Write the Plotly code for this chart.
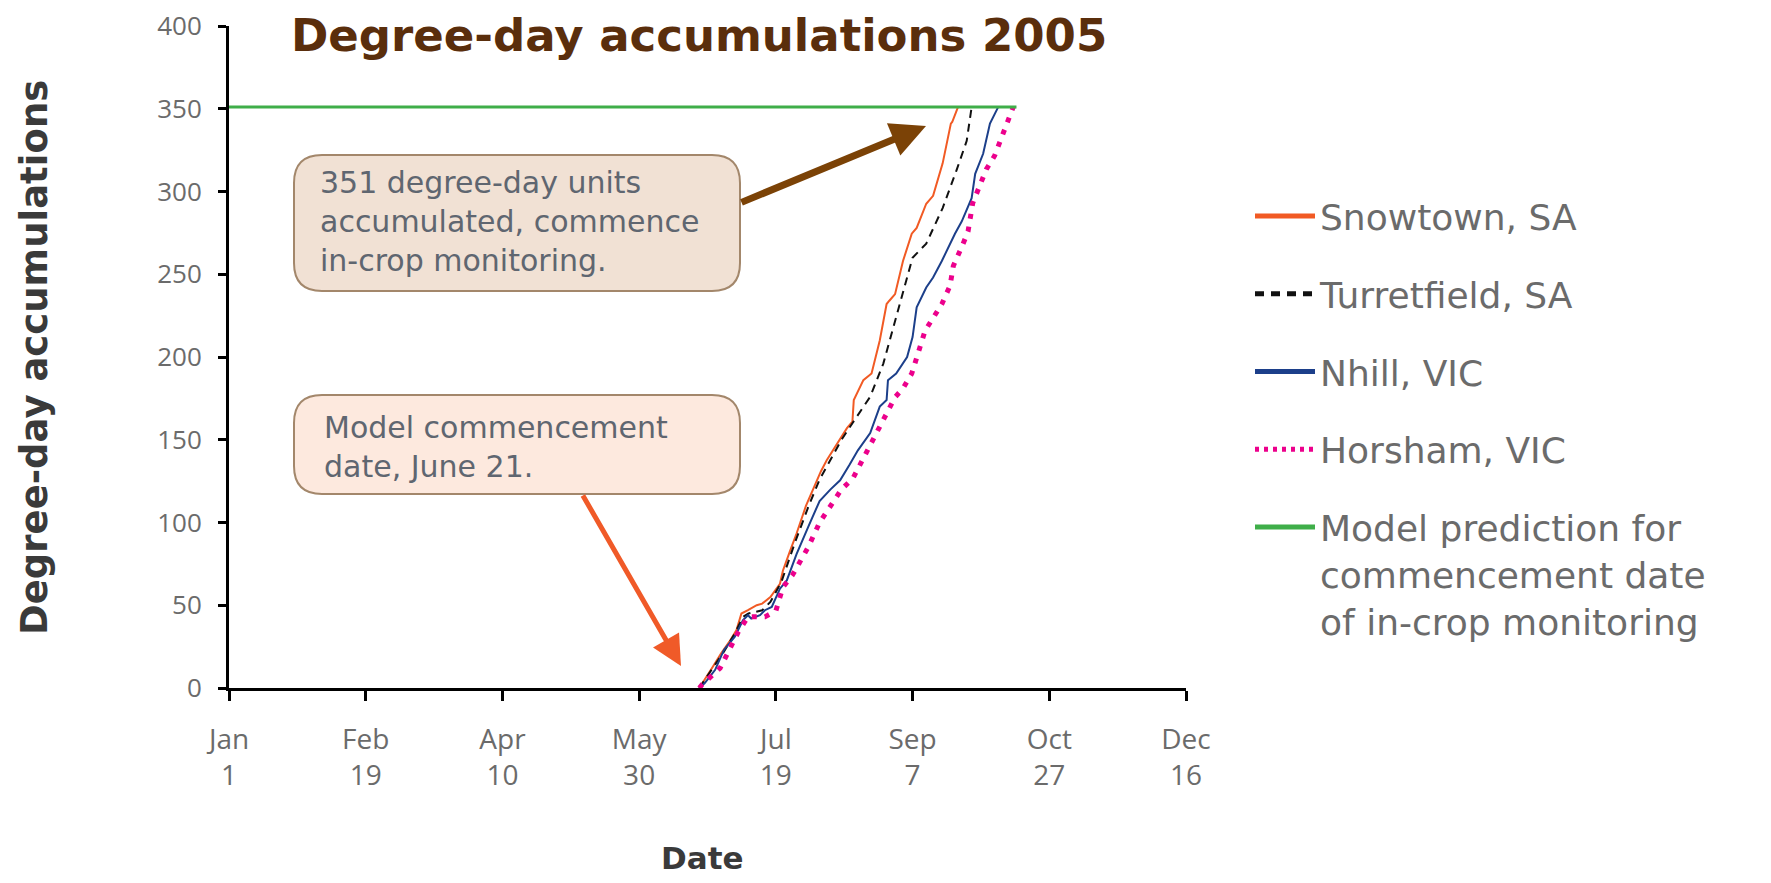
import plotly.graph_objects as go

# ---------------- data ----------------
tick_days = [0, 50, 100, 150, 200, 250, 300, 350]
tick_labels = ["Jan<br>1", "Feb<br>19", "Apr<br>10", "May<br>30", "Jul<br>19", "Sep<br>7", "Oct<br>27", "Dec<br>16"]
y_ticks = [0, 50, 100, 150, 200, 250, 300, 350, 400]

snow_day = [172, 174, 177, 180, 183, 185.6, 187.4, 189.8, 193, 195, 198, 201.5, 202.6, 205, 207.6, 211, 215.5,
            216.5, 218.6, 222.8, 226, 228, 228.5, 232, 235, 238, 240.5, 241.5, 243.6, 246.5, 249.7, 251.5, 255,
            257.5, 261, 264, 264.5, 266.6]
snow_val = [0, 5, 13, 21, 28, 35, 45, 47, 50, 51, 55, 63, 71, 82, 93.5, 110, 127,
            131, 137.6, 148.6, 157, 161, 174, 186, 190, 210, 232, 234, 238, 258, 274.5, 278, 292.6,
            297.4, 317, 341, 342, 351]

turr_day = [172, 177, 181, 185, 188, 190, 195, 198, 202, 207, 212, 216, 220, 224, 228, 232, 234.5, 239.3,
            244.2, 250, 255, 261, 266, 269.8, 271.6]
turr_val = [0, 12, 22, 33, 43, 45, 47, 52, 64, 88, 110, 126, 138, 150, 160, 170, 176, 196,
            226, 260, 268.5, 290, 312.5, 330.6, 351]

nhill_day = [172, 174, 177.8, 181, 185, 188, 189.8, 191, 194.2, 196, 198.5, 200.3, 201.5, 204, 207.6, 212,
             216, 220, 223.5, 227, 230, 234.5, 238, 240.5, 241, 244, 248, 250, 251.5, 255, 257.5, 260.7,
             263.7, 265.5, 268, 271.6, 272.9, 275.8, 278.3, 279.4, 281.3]
nhill_val = [0, 3, 11, 23, 31, 41, 44, 42, 44, 47, 49, 56, 60, 65, 81, 98,
             113, 120, 125.5, 135, 143.6, 154, 170, 174, 186, 190, 200, 212, 230, 242, 248, 258,
             268.5, 274.5, 282, 296, 310.7, 322.8, 341, 344.5, 351]

hors_day = [172, 173, 179.6, 182.8, 186.3, 189.8, 196, 200, 202.6, 206, 211.8, 216, 220.4, 224, 228.2, 233,
            238, 243.6, 246.5, 249.7, 254.6, 257, 260.7, 263.7, 264.9, 268.5, 270.3, 272, 277, 280, 282,
            284, 286.8]
hors_val = [0, 2, 12, 22, 34, 43, 43, 46.6, 61, 68, 85, 100, 111.5, 120, 126.7, 141.6,
            157, 175.7, 181, 190, 216, 222, 232, 243, 255, 268.5, 276, 293, 313.5, 321.6, 330.6,
            338.6, 351]

model_day = [0, 288]
model_val = [351, 351]

series_names = ["Snowtown, SA", "Turretfield, SA", "Nhill, VIC", "Horsham, VIC",
                "Model prediction for<br>commencement date<br>of in-crop monitoring"]

title_text = "Degree-day accumulations 2005"
box1_text = "351 degree-day units<br>accumulated, commence<br>in-crop monitoring."
box2_text = "Model commencement<br>date, June 21."

# ---------------- figure ----------------
FONT = "DejaVu Sans, sans-serif"
TICKFONT = "Open Sans, sans-serif"
OFF = 8                      # page body margin
W, H = 1771 - 2 * OFF, 883 - 2 * OFF
L = 229 - OFF
T = 26 - OFF
B = H - (688 - OFF)
R = W - (1186 - OFF)
PW, PH = W - L - R, H - T - B

colors = ["#f15a24", "#111111", "#1c3f8a", "#ec008c", "#3fae49"]
plot_lines = [dict(color=colors[0], width=2), dict(color=colors[1], width=2, dash="8px,6px"),
              dict(color=colors[2], width=2), dict(color=colors[3], width=5, dash="5px,8px"),
              dict(color=colors[4], width=3)]
legend_lines = [dict(color=colors[0], width=5), dict(color=colors[1], width=5, dash="9px,7px"),
                dict(color=colors[2], width=5), dict(color=colors[3], width=5, dash="4px,5px"),
                dict(color=colors[4], width=5)]
xs = [snow_day, turr_day, nhill_day, hors_day, model_day]
ys = [snow_val, turr_val, nhill_val, hors_val, model_val]

fig = go.Figure()
for i in range(5):
    fig.add_trace(go.Scatter(x=xs[i], y=ys[i], mode="lines", name=series_names[i], legendgroup=f"g{i}",
                             line=plot_lines[i], showlegend=False))
for i in range(5):
    fig.add_trace(go.Scatter(x=[None], y=[None], mode="lines", name=series_names[i], legendgroup=f"g{i}",
                             line=legend_lines[i], showlegend=True))


def px_x(X):
    return (X - OFF - L) / PW


def px_y(Y):
    return (H - B - (Y - OFF)) / PH


def rounded_box(x0, y0, x1, y1, r):
    rx, ry = r / PW, r / PH
    a, b = px_x(x0), px_x(x1)
    top, bot = px_y(y0), px_y(y1)
    return (f"M{a+rx},{top} L{b-rx},{top} Q{b},{top} {b},{top-ry} "
            f"L{b},{bot+ry} Q{b},{bot} {b-rx},{bot} "
            f"L{a+rx},{bot} Q{a},{bot} {a},{bot+ry} "
            f"L{a},{top-ry} Q{a},{top} {a+rx},{top} Z")


fig.add_shape(type="path", xref="paper", yref="paper", path=rounded_box(294, 155, 740, 291, 28),
              fillcolor="#f1e1d4", line=dict(color="#a3876b", width=2), layer="above")
fig.add_shape(type="path", xref="paper", yref="paper", path=rounded_box(294, 395, 740, 494, 28),
              fillcolor="#fde9de", line=dict(color="#a3876b", width=2), layer="above")

annots = [
    dict(text=title_text, x=px_x(289), y=px_y(35), xanchor="left", yanchor="middle",
         font=dict(family=FONT, size=45, color="#5a2e0c", weight="bold")),
    dict(text=box1_text, x=px_x(318), y=px_y(221), xanchor="left", yanchor="middle", align="left",
         font=dict(family=FONT, size=30, color="#5f6670")),
    dict(text=box2_text, x=px_x(322), y=px_y(447), xanchor="left", yanchor="middle", align="left",
         font=dict(family=FONT, size=30, color="#5f6670")),
    dict(text="Degree-day accumulations", x=px_x(34), y=px_y(358), textangle=-90,
         xanchor="center", yanchor="middle",
         font=dict(family=FONT, size=37, color="#3a3a3a", weight="bold")),
    dict(text="Date", x=px_x(702), y=px_y(858), xanchor="center", yanchor="middle",
         font=dict(family=FONT, size=31, color="#3a3a3a", weight="bold")),
    # arrows
    dict(text="", x=px_x(926), y=px_y(126), ax=740 - 926, ay=203 - 126, showarrow=True,
         arrowhead=2, arrowsize=1.0, arrowwidth=7, arrowcolor="#7b4206", standoff=0),
    dict(text="", x=px_x(681), y=px_y(666), ax=582 - 681, ay=494 - 666, showarrow=True,
         arrowhead=2, arrowsize=1.2, arrowwidth=5, arrowcolor="#f05a28", standoff=0),
]
for a in annots:
    a.setdefault("xref", "paper")
    a.setdefault("yref", "paper")
    a.setdefault("showarrow", False)
    fig.add_annotation(**a)

fig.update_layout(
    width=W, height=H,
    margin=dict(l=L, r=R, t=T, b=B, pad=0, autoexpand=False),
    plot_bgcolor="white", paper_bgcolor="white",
    font=dict(family=FONT, color="#666666"),
    showlegend=True,
    legend=dict(x=px_x(1250), y=px_y(186), xanchor="left", yanchor="top",
                font=dict(family=FONT, size=36, color="#6b6b6b"),
                tracegroupgap=28, valign="top", bgcolor="rgba(0,0,0,0)", itemwidth=60),
)
fig.update_xaxes(range=[0, 350], tickvals=tick_days, ticktext=tick_labels, showgrid=False, zeroline=False,
                 showline=True, linecolor="black", linewidth=3, ticks="outside", ticklen=10, tickwidth=2.5,
                 tickcolor="black", tickfont=dict(family=TICKFONT, size=28, color="#6b6b6b"),
                 ticklabelstandoff=14, ticklabeloverflow="allow", automargin=False)
fig.update_yaxes(range=[0, 400], tickvals=y_ticks, showgrid=False,
                 zeroline=False, showline=True, linecolor="black", linewidth=3, ticks="outside", ticklen=8,
                 tickwidth=2.5, tickcolor="black", tickfont=dict(family=TICKFONT, size=26, color="#6b6b6b"),
                 ticklabelstandoff=11, ticklabeloverflow="allow", automargin=False)

fig.write_html("out.html")
